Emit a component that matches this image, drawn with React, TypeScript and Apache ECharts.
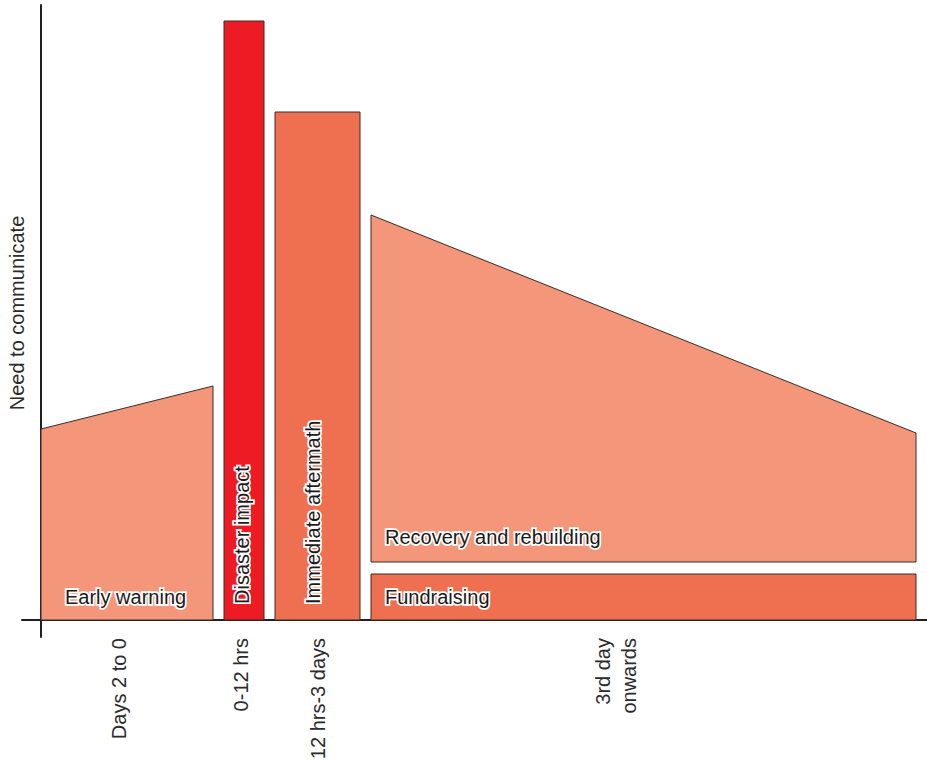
import React, { useEffect, useRef } from "react";
import * as echarts from "echarts";

// Phases (shapes) of the chart
const phaseNames = ["Early warning", "Disaster impact", "Immediate aftermath", "Recovery and rebuilding", "Fundraising"];
const phaseXStart = [0, 18.3, 23.4, 33.0, 33.0];
const phaseXEnd = [17.2, 22.3, 31.9, 87.5, 87.5];
const phaseYBase = [0, 0, 0, 5.8, 0];
const phaseYTopStart = [19.1, 59.9, 50.8, 40.5, 4.6];
const phaseYTopEnd = [23.4, 59.9, 50.8, 18.7, 4.6];

// Time axis labels
const timeLabels = ["Days 2 to 0", "0-12 hrs", "12 hrs-3 days", "3rd day\nonwards"];
const timeLabelPositions = [7.8, 19.95, 27.7, 57.5];

const yAxisTitle = "Need to communicate";

// Styles (kept apart from the data)
const fills = ["#F4967A", "#ED1C24", "#EF7050", "#F4967A", "#EF7050"];
const labelStyle = [
  { rotate: false, dx: 24, dy: -23 },
  { rotate: true, dx: -2, dy: -16 },
  { rotate: true, dx: -5, dy: -16 },
  { rotate: false, dx: 14, dy: -25 },
  { rotate: false, dx: 14, dy: -23 },
];
const FONT = "'Liberation Sans', Arial, Helvetica, sans-serif";

export default function App() {
  const ref = useRef<HTMLDivElement>(null);
  useEffect(() => {
    if (!ref.current) return;
    const chart = echarts.init(ref.current, null, { renderer: "svg" });
    const data = phaseNames.map((_, i) => [
      phaseXStart[i],
      phaseXEnd[i],
      phaseYBase[i],
      phaseYTopStart[i],
      phaseYTopEnd[i],
    ]);
    chart.setOption({
      animation: false,
      grid: {
        left: 22,
        right: 0,
        top: 5,
        bottom: 760 - 637,
        containLabel: false,
        outerBoundsMode: "none",
      },
      xAxis: {
        type: "value",
        min: -1.9,
        max: 88.6,
        splitLine: { show: false },
        axisTick: { show: false },
        axisLine: { onZero: true, lineStyle: { color: "#231f20", width: 2 } },
        axisLabel: {
          customValues: timeLabelPositions,
          rotate: 90,
          margin: 1,
          fontSize: 20,
          lineHeight: 26,
          fontFamily: FONT,
          color: "#2b2b2b",
          formatter: (v: number) => {
            let best = 0;
            timeLabelPositions.forEach((p, i) => {
              if (Math.abs(p - v) < Math.abs(timeLabelPositions[best] - v)) best = i;
            });
            return timeLabels[best];
          },
        },
      },
      yAxis: {
        type: "value",
        min: -1.7,
        max: 61.5,
        name: yAxisTitle,
        nameLocation: "middle",
        nameGap: -5,
        nameMoveOverlap: false,
        nameTextStyle: { fontSize: 20, fontFamily: FONT, color: "#2b2b2b", padding: [0, 0, 0, 16] },
        splitLine: { show: false },
        axisTick: { show: false },
        axisLabel: { show: false },
        axisLine: { onZero: true, lineStyle: { color: "#231f20", width: 2 } },
      },
      series: [
        {
          type: "custom",
          data,
          encode: { x: [0, 1], y: [2, 3, 4] },
          renderItem: (params: any, api: any) => {
            const i = params.dataIndex;
            const x0 = api.value(0), x1 = api.value(1), yb = api.value(2), yt0 = api.value(3), yt1 = api.value(4);
            const p1 = api.coord([x0, yb]);
            const p2 = api.coord([x1, yb]);
            const p3 = api.coord([x1, yt1]);
            const p4 = api.coord([x0, yt0]);
            const ls = labelStyle[i];
            const cx = (p1[0] + p2[0]) / 2;
            const textStyle = {
              text: phaseNames[i],
              fill: "#1a1a1a",
              stroke: "#ffffff",
              lineWidth: 3.5,
              fontSize: 20,
              fontFamily: FONT,
              align: "left",
              verticalAlign: "middle",
            };
            const textEl: any = ls.rotate
              ? { type: "text", x: cx + ls.dx, y: p1[1] + ls.dy, rotation: Math.PI / 2, style: textStyle }
              : { type: "text", x: p1[0] + ls.dx, y: p1[1] + ls.dy, style: textStyle };
            return {
              type: "group",
              children: [
                {
                  type: "polygon",
                  shape: { points: [p1, p2, p3, p4] },
                  style: { fill: fills[i], stroke: "#3a2a25", lineWidth: 1 },
                },
                textEl,
              ],
            };
          },
        },
      ],
    });
    return () => chart.dispose();
  }, []);
  return (
    <div
      ref={ref}
      style={{ position: "fixed", left: 0, top: 0, width: 927, height: 760, background: "#fff" }}
    />
  );
}
